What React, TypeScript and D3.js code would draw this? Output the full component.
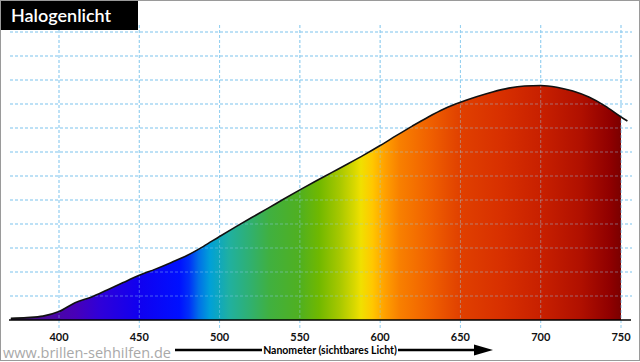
import * as d3 from "d3";

// wavelength (nm) and relative intensity of the halogen lamp
const wavelengths = [
  370, 380, 390, 400, 410, 420, 430, 440, 450, 460, 470, 480, 490, 500, 510,
  520, 530, 540, 550, 560, 570, 580, 590, 600, 610, 620, 630, 640, 650, 660,
  670, 680, 690, 700, 710, 720, 730, 740, 750, 754,
];
const intensity = [
  0.07, 0.1, 0.16, 0.35, 0.72, 0.95, 1.25, 1.56, 1.86, 2.12, 2.4, 2.7, 3.07,
  3.48, 3.88, 4.27, 4.65, 5.04, 5.42, 5.79, 6.15, 6.51, 6.88, 7.27, 7.68, 8.08,
  8.46, 8.8, 9.07, 9.3, 9.5, 9.66, 9.75, 9.77, 9.7, 9.54, 9.29, 8.92, 8.46,
  8.29,
];
const xTicks = [400, 450, 500, 550, 600, 650, 700, 750];
const yGrid = [1, 2, 3, 4, 5, 6, 7, 8, 9, 10, 11, 12];

// spectrum colours along the wavelength axis
const stopNm = [
  370, 390, 410, 425, 450, 475, 481, 487, 494, 506, 519, 531, 550, 562, 575,
  584, 588, 595, 603, 612, 631, 650, 675, 700, 725, 743, 750,
];
const stopColor = [
  "#302040", "#4a0a9a", "#4800b8", "#3000d8", "#1000f0", "#0010ff", "#0030f8",
  "#0070e8", "#00a0d8", "#20b0a0", "#30b070", "#40b040", "#50b020", "#70b800",
  "#a8c800", "#d8d800", "#f0e000", "#ffc800", "#ffa000", "#f88000", "#f06000",
  "#e04000", "#d83000", "#c82000", "#b01000", "#900000", "#7a0000",
];

const W = 640;
const H = 362;

export default function App() {
  const x = d3.scaleLinear().domain([400, 750]).range([59, 621]);
  const y = d3.scaleLinear().domain([0, 12]).range([320, 32]);

  const pts = wavelengths.map((w, i) => [w, intensity[i]] as [number, number]);
  const fillPts = pts.filter((p) => p[0] <= 750);

  const area = d3
    .area<[number, number]>()
    .x((d) => x(d[0]))
    .y0(y(0))
    .y1((d) => y(d[1]))
    .curve(d3.curveMonotoneX);
  const line = d3
    .line<[number, number]>()
    .x((d) => x(d[0]))
    .y((d) => y(d[1]))
    .curve(d3.curveMonotoneX);

  const x0 = x(370);
  const x1 = x(750);
  const gridColor = "#93cff0";

  return (
    <svg
      width={W}
      height={H}
      style={{ position: "absolute", left: 0, top: 0, background: "#fff" }}
    >
      <defs>
        <linearGradient id="spec" gradientUnits="userSpaceOnUse" x1={x0} x2={x1} y1={0} y2={0}>
          {stopNm.map((n, i) => (
            <stop key={i} offset={(x(n) - x0) / (x1 - x0)} stopColor={stopColor[i]} />
          ))}
        </linearGradient>
      </defs>

      {/* grid */}
      {yGrid.map((v) => (
        <line key={"h" + v} x1={10} x2={632} y1={y(v)} y2={y(v)} stroke={gridColor} strokeDasharray="3,2" />
      ))}
      {xTicks.map((t) => (
        <line key={"v" + t} x1={x(t)} x2={x(t)} y1={25} y2={328} stroke={gridColor} strokeDasharray="3,2" />
      ))}

      <path d={area(fillPts) ?? ""} fill="url(#spec)" />
      {/* grid shows faintly through the fill */}
      {yGrid.map((v) => (
        <line key={"ho" + v} x1={10} x2={632} y1={y(v)} y2={y(v)} stroke={gridColor} strokeOpacity={0.45} strokeDasharray="3,2" />
      ))}
      {xTicks.map((t) => (
        <line key={"vo" + t} x1={x(t)} x2={x(t)} y1={25} y2={320} stroke={gridColor} strokeOpacity={0.45} strokeDasharray="3,2" />
      ))}
      <path d={line(pts) ?? ""} fill="none" stroke="#111" strokeWidth={1.6} />
      <line x1={9} x2={631} y1={y(0)} y2={y(0)} stroke="#000" strokeWidth={1.6} />

      {/* tick labels */}
      {xTicks.map((t) => (
        <text
          key={"t" + t}
          x={x(t)}
          y={341}
          textAnchor="middle"
          fontFamily="Lato, sans-serif"
          fontWeight={700}
          fontSize={11}
          fill="#111"
        >
          {t}
        </text>
      ))}

      {/* axis title with arrow */}
      <line x1={175} x2={262} y1={350} y2={350} stroke="#000" strokeWidth={2.5} />
      <text x={330} y={354} textAnchor="middle" fontFamily="Lato, sans-serif" fontWeight={700} fontSize={10.5} fill="#000">
        Nanometer (sichtbares Licht)
      </text>
      <line x1={398} x2={478} y1={350} y2={350} stroke="#000" strokeWidth={2.5} />
      <path d="M474,344.5 L493,350 L474,355.5 Z" fill="#000" />

      {/* watermark */}
      <text x={3} y={358} fontFamily="'Open Sans', sans-serif" fontSize={14.5} fill="#a9a9a9">
        www.brillen-sehhilfen.de
      </text>

      {/* title */}
      <rect x={0} y={0} width={138} height={30} fill="#000" />
      <text x={11} y={22} fontFamily="Lato, sans-serif" fontWeight={600} fontSize={18} fill="#fff">
        Halogenlicht
      </text>

      <rect x={0.5} y={0.5} width={639} height={360} fill="none" stroke="#9a9a9a" strokeWidth={1} />
    </svg>
  );
}
